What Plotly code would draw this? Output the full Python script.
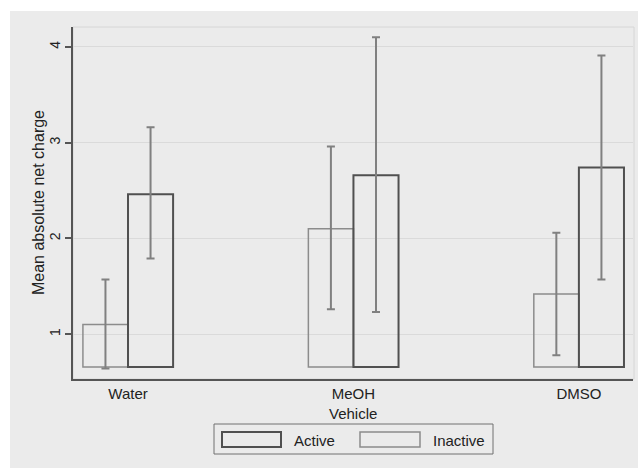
import plotly.graph_objects as go

vehicles = ["Water", "MeOH", "DMSO"]
active_mean = [2.46, 2.66, 2.74]
active_lo = [1.79, 1.23, 1.57]
active_hi = [3.16, 4.10, 3.91]
inactive_mean = [1.10, 2.10, 1.42]
inactive_lo = [0.64, 1.26, 0.78]
inactive_hi = [1.57, 2.96, 2.06]
bar_base = 0.656
yticks = [1, 2, 3, 4]

W, H = 638, 468
ML, MR, MT, MB = 73, 5, 27, 89
PW, PH = W - ML - MR, H - MT - MB
BG = "#ebebeb"
FONT = "Liberation Sans, Arial, sans-serif"


def px(x):
    return (x - ML) / PW


def py(y):
    return (H - MB - y) / PH


def bar_trace(name, mean, lo, hi, line_color, line_w):
    return go.Bar(
        name=name,
        x=vehicles,
        y=[m - bar_base for m in mean],
        base=bar_base,
        marker=dict(color="rgba(0,0,0,0)", line=dict(color=line_color, width=line_w)),
        error_y=dict(
            type="data", symmetric=False,
            array=[h - m for h, m in zip(hi, mean)],
            arrayminus=[m - l for m, l in zip(mean, lo)],
            color="#808080", thickness=2, width=4,
        ),
        showlegend=False,
    )


fig = go.Figure()
fig.add_trace(bar_trace("Inactive", inactive_mean, inactive_lo, inactive_hi, "#8c8c8c", 1.5))
fig.add_trace(bar_trace("Active", active_mean, active_lo, active_hi, "#505050", 2))

shapes = [
    # white strips at top and left of the image
    dict(type="rect", xref="paper", yref="paper", x0=px(0), x1=px(W), y0=py(11), y1=py(0),
         fillcolor="white", line_width=0, layer="below"),
    dict(type="rect", xref="paper", yref="paper", x0=px(0), x1=px(10), y0=py(H), y1=py(0),
         fillcolor="white", line_width=0, layer="below"),
    # plot region outline
    dict(type="rect", xref="paper", yref="paper", x0=0, x1=px(634), y0=0, y1=1,
         line=dict(color="#d6d6d6", width=1), fillcolor="rgba(0,0,0,0)", layer="below"),
    # legend box
    dict(type="rect", xref="paper", yref="paper", x0=px(214), x1=px(493), y0=py(454), y1=py(424),
         line=dict(color="#707070", width=1), fillcolor=BG),
    dict(type="rect", xref="paper", yref="paper", x0=px(222), x1=px(281), y0=py(447), y1=py(432),
         line=dict(color="#505050", width=2), fillcolor=BG),
    dict(type="rect", xref="paper", yref="paper", x0=px(360), x1=px(420), y0=py(447), y1=py(432),
         line=dict(color="#8c8c8c", width=1.5), fillcolor=BG),
]

annotations = [
    dict(text="Active", xref="paper", yref="paper", x=px(292), y=py(440), xanchor="left",
         yanchor="middle", showarrow=False, font=dict(size=15, color="#222", family=FONT)),
    dict(text="Inactive", xref="paper", yref="paper", x=px(431), y=py(440), xanchor="left",
         yanchor="middle", showarrow=False, font=dict(size=15, color="#222", family=FONT)),
    dict(text="Vehicle", xref="paper", yref="paper", x=px(353), y=py(403), xanchor="center",
         yanchor="top", showarrow=False, font=dict(size=15, color="#222", family=FONT)),
    dict(text="Mean absolute net charge", xref="paper", yref="paper", x=px(38), y=py(203),
         xanchor="center", yanchor="middle", textangle=-90, showarrow=False,
         font=dict(size=16, color="#222", family=FONT)),
]

fig.update_layout(
    width=W, height=H,
    margin=dict(l=ML, r=MR, t=MT, b=MB, autoexpand=False),
    paper_bgcolor=BG, plot_bgcolor=BG,
    barmode="group", bargap=0.6, bargroupgap=0,
    font=dict(family=FONT, color="#222", size=15),
    shapes=shapes, annotations=annotations,
    showlegend=False,
)
fig.update_xaxes(
    range=[-0.244, 2.24], showline=True, linecolor="#555", linewidth=1.5,
    ticks="", showgrid=False, tickfont=dict(size=15),
)
fig.update_yaxes(
    range=[0.531, 4.208], tickvals=yticks, tickangle=-90,
    showline=True, linecolor="#555", linewidth=1.5,
    ticks="outside", ticklen=6, tickcolor="#555", tickwidth=1.5,
    gridcolor="#dadada", gridwidth=1, zeroline=False, tickfont=dict(size=14),
)

fig.write_html("out.html")
